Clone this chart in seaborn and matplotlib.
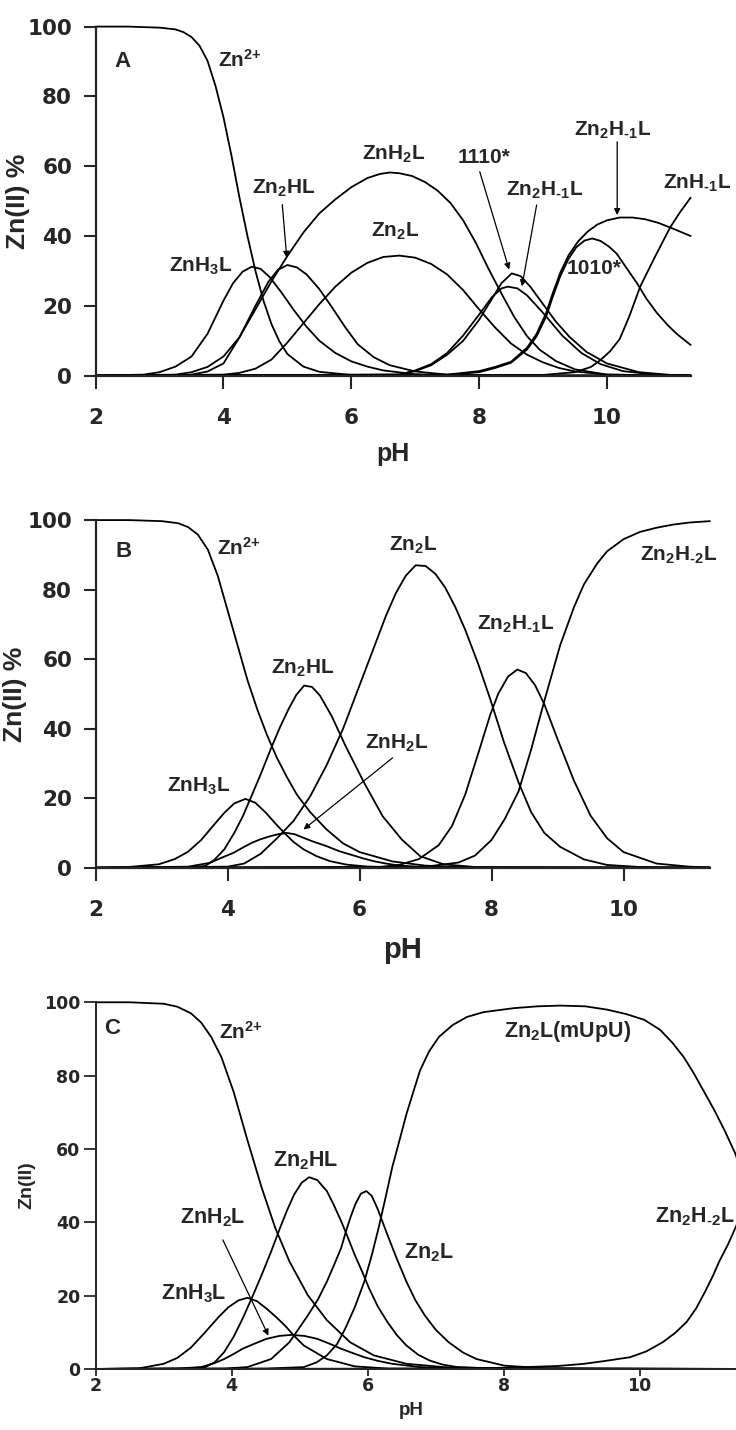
import matplotlib
matplotlib.use("Agg")
import matplotlib.pyplot as plt
import pandas as pd
import seaborn as sns

# ---------------- panel A ----------------
A_ZN_PH = [2, 2.5, 3, 3.25, 3.375, 3.5, 3.625, 3.75, 3.875, 4, 4.125, 4.25, 4.375, 4.5, 4.625, 4.75, 4.875, 5, 5.25, 5.5, 6, 7, 11.31]
A_ZN = [100, 100, 99.7, 99.2, 98.4, 97, 94.5, 90.2, 83, 74, 63, 51, 40, 30, 21.5, 14.8, 9.8, 6.2, 2.6, 1.1, 0.2, 0, 0]
A_ZNH3L_PH = [2, 2.75, 3, 3.25, 3.5, 3.75, 4, 4.15, 4.3, 4.44, 4.58, 4.72, 4.9, 5.1, 5.3, 5.5, 5.75, 6, 6.25, 6.5, 7, 7.5, 11.31]
A_ZNH3L = [0, 0.3, 1, 2.6, 5.5, 12, 21.5, 26.5, 29.8, 31.2, 30.6, 28.3, 24, 18.8, 14, 10, 6.5, 4.1, 2.6, 1.5, 0.4, 0.1, 0]
A_ZN2HL_PH = [2, 3.25, 3.5, 3.75, 4, 4.25, 4.5, 4.7, 4.85, 5, 5.15, 5.3, 5.5, 5.7, 5.9, 6.1, 6.35, 6.6, 7, 7.5, 8, 11.31]
A_ZN2HL = [0, 0.1, 0.3, 1.2, 3.5, 11, 20, 26.8, 30.3, 31.7, 31, 29, 24.8, 19.5, 14, 9, 5.3, 3, 1.2, 0.3, 0.05, 0]
A_ZNH2L_PH = [2, 3.25, 3.5, 3.75, 4, 4.25, 4.5, 4.75, 5, 5.25, 5.5, 5.75, 6, 6.25, 6.45, 6.6, 6.75, 6.95, 7.15, 7.35, 7.55, 7.75, 7.95, 8.15, 8.35, 8.55, 8.75, 8.95, 9.2, 9.5, 10, 11.31]
A_ZNH2L = [0, 0.3, 1, 2.5, 5.5, 11, 19, 27, 34.3, 41, 46.5, 50.5, 54, 56.6, 57.8, 58.2, 58, 57.2, 55.5, 53, 49.5, 44.5, 38, 30.5, 23.5, 16.8, 11.3, 7.4, 4.2, 1.8, 0.3, 0]
A_ZN2L_PH = [2, 4, 4.25, 4.5, 4.75, 5, 5.25, 5.5, 5.75, 6, 6.25, 6.5, 6.75, 7, 7.25, 7.5, 7.75, 8, 8.25, 8.5, 8.75, 9, 9.25, 9.5, 10, 11.31]
A_ZN2L = [0, 0.3, 0.8, 2, 4.6, 9.5, 15, 20.5, 25.5, 29.5, 32.3, 34, 34.4, 33.8, 32, 29, 24.5, 19, 13.8, 9.2, 6, 3.8, 2.2, 1.2, 0.3, 0]
A_1110_PH = [2, 6.75, 7, 7.25, 7.5, 7.75, 8, 8.2, 8.35, 8.51, 8.65, 8.8, 9, 9.2, 9.42, 9.68, 10, 10.5, 11, 11.31]
A_1110 = [0, 0.3, 1.3, 3, 6, 10, 16, 22, 26.5, 29.3, 28.5, 25.5, 20.5, 15.5, 11, 6.8, 3.5, 1, 0.2, 0.1]
A_ZN2HM1L_S_PH = [2, 6.75, 7, 7.25, 7.5, 7.75, 8, 8.2, 8.35, 8.45, 8.6, 8.75, 9, 9.3, 9.6, 9.9, 10.25, 10.75, 11.31]
A_ZN2HM1L_S = [0, 0.3, 1.5, 3.3, 6.5, 11.5, 17.5, 22.5, 25, 25.5, 25, 23, 18, 11.5, 6.5, 3.3, 1.3, 0.3, 0.1]
A_ZN2HM1L_B_PH = [2, 7.5, 8, 8.25, 8.5, 8.75, 8.9, 9.05, 9.15, 9.27, 9.4, 9.55, 9.7, 9.85, 10, 10.2, 10.4, 10.6, 10.8, 11.05, 11.31]
A_ZN2HM1L_B = [0, 0.3, 1.3, 2.5, 4, 8, 12, 18, 23.5, 29.5, 34.5, 38.5, 41.3, 43.3, 44.5, 45.3, 45.3, 44.8, 43.8, 42, 40]
A_1010_PH = [2, 7.5, 8, 8.25, 8.5, 8.75, 8.9, 9.05, 9.15, 9.27, 9.4, 9.52, 9.65, 9.77, 9.9, 10.03, 10.15, 10.3, 10.47, 10.62, 10.78, 10.95, 11.09, 11.31]
A_1010 = [0, 0.2, 1, 2.2, 3.7, 7.5, 11.3, 17, 22.5, 28.5, 33.5, 36.8, 38.7, 39.3, 38.6, 37, 35, 31, 26.5, 22, 18, 14.5, 12, 8.8]
A_ZNHM1L_PH = [2, 9, 9.5, 9.75, 9.9, 10.05, 10.2, 10.35, 10.52, 10.75, 10.99, 11.15, 11.31]
A_ZNHM1L = [0, 0.2, 1, 2.5, 4.5, 7, 10.5, 17, 25.5, 34, 42.5, 47, 51]

# ---------------- panel B ----------------
B_ZN_PH = [2, 2.5, 3, 3.25, 3.4, 3.55, 3.7, 3.85, 4, 4.15, 4.3, 4.45, 4.6, 4.75, 4.9, 5.05, 5.25, 5.5, 5.75, 6, 6.5, 7, 7.5, 8, 11.31]
B_ZN = [100, 100, 99.7, 99.1, 98, 95.8, 91.5, 84, 74, 64, 54, 45.5, 38, 31.5, 26, 21, 16, 11, 7, 4.5, 1.8, 0.6, 0.2, 0.05, 0]
B_ZNH3L_PH = [2, 2.5, 2.96, 3.2, 3.4, 3.6, 3.8, 3.95, 4.1, 4.27, 4.42, 4.58, 4.72, 4.87, 5, 5.15, 5.35, 5.55, 5.8, 6.1, 6.5, 11.31]
B_ZNH3L = [0, 0.2, 1, 2.5, 4.6, 8, 12.5, 15.8, 18.5, 19.8, 18.7, 15.8, 12.8, 9.8, 7.4, 5.3, 3.3, 1.9, 0.9, 0.35, 0.1, 0]
B_ZN2HL_PH = [2, 3.4, 3.66, 3.8, 3.95, 4.1, 4.23, 4.37, 4.51, 4.65, 4.8, 4.92, 5.04, 5.16, 5.28, 5.4, 5.58, 5.79, 6.07, 6.35, 6.64, 6.92, 7.27, 7.75, 11.31]
B_ZN2HL = [0, 0.1, 0.5, 2.3, 5.3, 10, 14.8, 21, 27.3, 34, 40.7, 45.5, 49.7, 52.4, 52, 49.5, 43.5, 34.9, 24.4, 14.8, 8.1, 3.3, 1, 0.2, 0]
B_ZNH2L_PH = [2, 3.4, 3.73, 3.9, 4.09, 4.25, 4.37, 4.5, 4.65, 4.78, 4.9, 5.02, 5.15, 5.3, 5.5, 5.7, 5.86, 6.05, 6.21, 6.4, 6.57, 6.92, 7.5, 11.31]
B_ZNH2L = [0, 0.3, 1.4, 2.8, 4.3, 6, 7.2, 8.2, 9.1, 9.7, 10, 9.6, 8.6, 7.5, 6.2, 4.7, 3.8, 2.7, 1.9, 1.2, 0.7, 0.2, 0, 0]
B_ZN2L_PH = [2, 4, 4.25, 4.5, 4.75, 5, 5.25, 5.5, 5.75, 6, 6.25, 6.4, 6.55, 6.7, 6.85, 7, 7.15, 7.3, 7.45, 7.6, 7.8, 7.98, 8.19, 8.41, 8.6, 8.8, 9.04, 9.4, 9.75, 10.25, 11.31]
B_ZN2L = [0, 0.3, 1.2, 4, 8.5, 13.5, 20.5, 29.5, 40, 52.5, 65, 72.5, 79, 84, 87, 86.8, 84.5, 80.5, 75, 68.5, 58.5, 48.5, 36, 24.5, 16, 10, 6, 2.4, 0.8, 0.2, 0]
B_ZN2HM1L_PH = [2, 6.3, 6.6, 6.9, 7.2, 7.4, 7.6, 7.8, 7.98, 8.1, 8.25, 8.39, 8.52, 8.66, 8.8, 9, 9.25, 9.5, 9.75, 10, 10.5, 11, 11.31]
B_ZN2HM1L = [0, 0.2, 0.8, 2.5, 6.5, 12, 21, 33, 44, 50, 55, 57, 56, 52.5, 47, 37, 25, 15, 8.5, 4.5, 1.2, 0.3, 0.1]
B_ZN2HM2L_PH = [2, 7, 7.5, 7.75, 8, 8.2, 8.41, 8.6, 8.8, 9.04, 9.25, 9.4, 9.6, 9.75, 10, 10.25, 10.5, 10.75, 11, 11.31]
B_ZN2HM2L = [0, 0.3, 1.5, 3.5, 8, 14, 22, 34, 48, 64, 75, 81.5, 87.5, 91, 94.5, 96.6, 97.8, 98.7, 99.3, 99.7]

# ---------------- panel C ----------------
C_ZN_PH = [2, 2.5, 3, 3.2, 3.4, 3.55, 3.7, 3.85, 4.03, 4.23, 4.44, 4.64, 4.85, 5.12, 5.4, 5.74, 6.09, 6.57, 7.12, 8, 11.5]
C_ZN = [100, 100, 99.6, 98.8, 97, 94.5, 90.5, 85, 75.5, 62.5, 49.5, 38.5, 29.3, 20.1, 13.3, 7.3, 3.7, 1.4, 0.5, 0.05, 0]
C_ZNH3L_PH = [2, 2.65, 3, 3.2, 3.4, 3.61, 3.8, 3.95, 4.1, 4.23, 4.37, 4.51, 4.65, 4.78, 4.92, 5.06, 5.4, 5.81, 6.3, 11.5]
C_ZNH3L = [0, 0.2, 1.4, 3, 5.8, 10, 14, 16.8, 18.7, 19.4, 18.5, 16.5, 14.2, 11.9, 9, 6.4, 2.7, 0.7, 0.1, 0]
C_ZNH2L_PH = [2, 3.2, 3.55, 3.75, 3.89, 4.05, 4.16, 4.35, 4.51, 4.7, 4.88, 5.07, 5.26, 5.45, 5.61, 5.8, 5.95, 6.15, 6.36, 6.77, 7.3, 11.5]
C_ZNH2L = [0, 0.1, 0.5, 1.6, 2.7, 4.3, 5.5, 7, 8.2, 9, 9.3, 9, 8.2, 6.8, 5.5, 4.2, 3.2, 2.2, 1.4, 0.5, 0.1, 0]
C_ZN2HL_PH = [2, 3.3, 3.61, 3.75, 3.89, 4.03, 4.16, 4.3, 4.44, 4.58, 4.71, 4.82, 4.92, 5.03, 5.14, 5.26, 5.4, 5.5, 5.61, 5.71, 5.81, 5.92, 6.02, 6.15, 6.29, 6.43, 6.57, 6.74, 6.91, 7.1, 7.32, 8, 11.5]
C_ZN2HL = [0, 0.1, 0.5, 1.8, 4.6, 8.8, 13.7, 19.5, 25.6, 32, 38.4, 43.5, 47.6, 50.8, 52.3, 51.5, 48.5, 44.8, 40.3, 35.8, 31.1, 26.5, 22, 17, 12.8, 9.2, 6.4, 3.9, 2.3, 1.2, 0.5, 0.05, 0]
C_ZN2L_PH = [2, 3.9, 4.23, 4.58, 4.85, 5.12, 5.27, 5.4, 5.52, 5.61, 5.68, 5.75, 5.82, 5.9, 5.98, 6.06, 6.15, 6.29, 6.43, 6.57, 6.7, 6.84, 7, 7.19, 7.4, 7.6, 8.01, 8.6, 11.5]
C_ZN2L = [0, 0.1, 0.5, 2.7, 7.3, 14.6, 19, 23.8, 29, 33, 37.5, 41.5, 45, 47.8, 48.5, 47.2, 43.5, 36.6, 30, 23.8, 18.8, 14.6, 10.7, 7.3, 4.5, 2.7, 0.9, 0.2, 0]
C_MUPU_PH = [2, 4.5, 5.06, 5.25, 5.4, 5.55, 5.67, 5.81, 5.95, 6.06, 6.16, 6.26, 6.36, 6.47, 6.57, 6.67, 6.77, 6.9, 7.05, 7.25, 7.46, 7.7, 8.15, 8.5, 8.83, 9.2, 9.52, 9.8, 10.07, 10.3, 10.48, 10.65, 10.8, 10.95, 11.1, 11.25, 11.4, 11.5]
C_MUPU = [0, 0.1, 0.5, 1.8, 3.7, 6.8, 11, 16.8, 23.8, 31, 38.4, 46.5, 54.9, 62.5, 69.5, 75.5, 81.4, 86.5, 90.6, 93.8, 96, 97.3, 98.4, 98.9, 99.1, 98.9, 98, 96.8, 95.2, 92.5, 89, 85, 80.5, 75.5, 70.5, 65, 59, 54]
C_ZN2HM2L_PH = [2, 7.5, 8.15, 8.8, 9.18, 9.5, 9.86, 10.1, 10.34, 10.52, 10.69, 10.83, 10.96, 11.08, 11.17, 11.3, 11.42, 11.5]
C_ZN2HM2L = [0, 0.1, 0.4, 0.8, 1.4, 2.2, 3.2, 4.8, 7.3, 9.8, 12.8, 16.5, 21, 25.5, 29.3, 34, 39, 42.5]

FONT = "Liberation Sans"
TICK_FONT = "DejaVu Sans"

sns.set_style("ticks")
plt.rcParams["font.family"] = [FONT, "DejaVu Sans"]
plt.rcParams["font.weight"] = "bold"
plt.rcParams["mathtext.fontset"] = "custom"
for key in ("rm", "it", "bf", "sf"):
    plt.rcParams[f"mathtext.{key}"] = f"{FONT}:bold"

ZN2 = r"Zn$^{2{+}}$"
M1 = r"$_{\text{-}1}$"
M2 = r"$_{\text{-}2}$"


def draw_curves(ax, curves):
    frames = [pd.DataFrame({"pH": ph, "pct": val, "species": name})
              for name, (ph, val) in curves.items()]
    df = pd.concat(frames, ignore_index=True)
    sns.lineplot(data=df, x="pH", y="pct", units="species", estimator=None,
                 sort=False, color="black", lw=1.3, legend=False, ax=ax)
    for line in ax.lines:
        line.set_clip_on(False)


def style_axes(ax, xmax, big=True):
    ax.set_xlim(2, xmax)
    ax.set_ylim(0, 100)
    ax.set_xticks([2, 4, 6, 8, 10])
    ax.set_yticks([0, 20, 40, 60, 80, 100])
    sns.despine(ax=ax)
    for side in ("left", "bottom"):
        ax.spines[side].set_linewidth(1.6 if big else 1.4)
    if big:
        ax.tick_params(axis="both", length=9, width=1.5, labelsize=15.5)
        ax.tick_params(axis="x", pad=14)
        ax.tick_params(axis="y", pad=8)
    else:
        ax.tick_params(axis="x", length=5, width=1.3, labelsize=12.5, pad=1)
        ax.tick_params(axis="y", length=9, width=1.3, labelsize=12.5, pad=2)
    for lab in ax.get_xticklabels() + ax.get_yticklabels():
        lab.set_fontweight("bold")
        lab.set_family(TICK_FONT)


def label(ax, x, y, s, size=15, ha="center"):
    ax.text(x, y, s, ha=ha, va="center", fontsize=size, fontweight="bold")


def arrow(ax, start, end):
    ax.annotate("", xy=end, xytext=start, annotation_clip=False,
                arrowprops=dict(arrowstyle="-|>", color="black", lw=0.9,
                                mutation_scale=9, shrinkA=0, shrinkB=0))


fig = plt.figure(figsize=(7.36, 14.3), dpi=100)

# ---- A ----
axA = fig.add_axes([0.1300, 0.7373, 0.8084, 0.2441])
draw_curves(axA, {
    "Zn": (A_ZN_PH, A_ZN), "ZnH3L": (A_ZNH3L_PH, A_ZNH3L),
    "Zn2HL": (A_ZN2HL_PH, A_ZN2HL), "ZnH2L": (A_ZNH2L_PH, A_ZNH2L),
    "Zn2L": (A_ZN2L_PH, A_ZN2L), "1110": (A_1110_PH, A_1110),
    "Zn2H-1L s": (A_ZN2HM1L_S_PH, A_ZN2HM1L_S), "Zn2H-1L b": (A_ZN2HM1L_B_PH, A_ZN2HM1L_B),
    "1010": (A_1010_PH, A_1010), "ZnH-1L": (A_ZNHM1L_PH, A_ZNHM1L),
})
style_axes(axA, 11.31)
axA.set_xlabel("pH", fontsize=18, fontweight="bold")
axA.set_ylabel("Zn(II) %", fontsize=19, fontweight="bold")
axA.xaxis.set_label_coords(0.5, -0.19)
axA.yaxis.set_label_coords(-0.110, 0.5)
label(axA, 2.42, 90, "A", size=16)
label(axA, 3.91, 90.5, ZN2, ha="left")
label(axA, 3.64, 31.3, r"ZnH$_3$L")
label(axA, 4.95, 53.8, r"Zn$_2$HL")
arrow(axA, (4.92, 49), (4.99, 33.8))
label(axA, 6.67, 63.3, r"ZnH$_2$L")
label(axA, 6.68, 41.2, r"Zn$_2$L")
label(axA, 8.07, 62.4, "1110*")
arrow(axA, (8.01, 58.4), (8.47, 30.4))
label(axA, 9.02, 53.2, r"Zn$_2$H" + M1 + "L")
arrow(axA, (8.90, 48.9), (8.67, 25.6))
label(axA, 10.09, 70.4, r"Zn$_2$H" + M1 + "L")
arrow(axA, (10.16, 67), (10.16, 46))
label(axA, 9.80, 30.6, "1010*")
label(axA, 11.41, 55.1, "ZnH" + M1 + "L")

# ---- B ----
axB = fig.add_axes([0.1300, 0.3932, 0.8346, 0.2431])
draw_curves(axB, {
    "Zn": (B_ZN_PH, B_ZN), "ZnH3L": (B_ZNH3L_PH, B_ZNH3L),
    "Zn2HL": (B_ZN2HL_PH, B_ZN2HL), "ZnH2L": (B_ZNH2L_PH, B_ZNH2L),
    "Zn2L": (B_ZN2L_PH, B_ZN2L), "Zn2H-1L": (B_ZN2HM1L_PH, B_ZN2HM1L),
    "Zn2H-2L": (B_ZN2HM2L_PH, B_ZN2HM2L),
})
style_axes(axB, 11.31)
axB.set_xlabel("pH", fontsize=21, fontweight="bold")
axB.set_ylabel("Zn(II) %", fontsize=19, fontweight="bold")
axB.xaxis.set_label_coords(0.5, -0.195)
axB.yaxis.set_label_coords(-0.112, 0.5)
label(axB, 2.42, 90.9, "B", size=16)
label(axB, 3.84, 91.9, ZN2, ha="left")
label(axB, 6.81, 92.8, r"Zn$_2$L")
label(axB, 10.83, 90, r"Zn$_2$H" + M2 + "L")
label(axB, 8.37, 69.9, r"Zn$_2$H" + M1 + "L")
label(axB, 5.14, 57.4, r"Zn$_2$HL")
label(axB, 6.57, 35.9, r"ZnH$_2$L")
arrow(axB, (6.50, 31.6), (5.15, 11))
label(axB, 3.56, 23.4, r"ZnH$_3$L")

# ---- C ----
axC = fig.add_axes([0.1300, 0.0427, 0.8777, 0.2564])
draw_curves(axC, {
    "Zn": (C_ZN_PH, C_ZN), "ZnH3L": (C_ZNH3L_PH, C_ZNH3L),
    "ZnH2L": (C_ZNH2L_PH, C_ZNH2L), "Zn2HL": (C_ZN2HL_PH, C_ZN2HL),
    "Zn2L": (C_ZN2L_PH, C_ZN2L), "mUpU": (C_MUPU_PH, C_MUPU),
    "Zn2H-2L": (C_ZN2HM2L_PH, C_ZN2HM2L),
})
style_axes(axC, 11.5, big=False)
axC.set_xlabel("pH", fontsize=13.5, fontweight="bold")
axC.set_ylabel("Zn(II)", fontsize=14, fontweight="bold")
axC.xaxis.set_label_coords(0.488, -0.09)
axC.yaxis.set_label_coords(-0.094, 0.5)
label(axC, 2.24, 92.9, "C", size=16)
label(axC, 3.81, 91.9, ZN2, ha="left")
label(axC, 8.94, 91.9, r"Zn$_2$L(mUpU)", size=15.5)
label(axC, 5.09, 56.9, r"Zn$_2$HL", size=15.5)
label(axC, 3.72, 41.2, r"ZnH$_2$L", size=15.5)
arrow(axC, (3.87, 35.2), (4.54, 9.1))
label(axC, 6.9, 31.6, r"Zn$_2$L", size=15.5)
label(axC, 3.44, 20.6, r"ZnH$_3$L", size=15.5)
fig.text(0.998, axC.transData.transform((0, 41.6))[1] / fig.bbox.height,
         r"Zn$_2$H" + M2 + "L", ha="right", va="center", fontsize=15.5,
         fontweight="bold")

fig.savefig("out.png", dpi=100)
